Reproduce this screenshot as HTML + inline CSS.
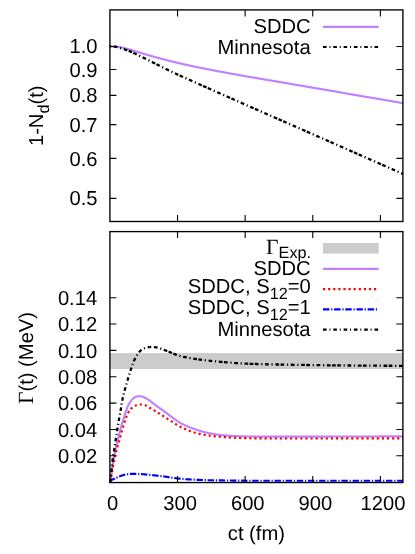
<!DOCTYPE html>
<html><head><meta charset="utf-8"><title>plot</title>
<style>html,body{margin:0;padding:0;background:#fff;}body{width:415px;height:554px;overflow:hidden;font-family:"Liberation Sans",sans-serif;}</style>
</head><body>
<svg width="415" height="554" viewBox="0 0 415 554" style="display:block;will-change:transform">
<rect x="0" y="0" width="415" height="554" fill="#fff"/>
<defs>
<clipPath id="c1"><rect x="109.9" y="9.9" width="293.00" height="211.60"/></clipPath>
<clipPath id="c2"><rect x="109.9" y="231.6" width="293.00" height="250.95"/></clipPath>
</defs>
<g clip-path="url(#c2)">
<rect x="109.9" y="353.1" width="293.00" height="15.90" fill="#cccccc"/>
</g>
<rect x="323.0" y="243.0" width="55.7" height="10.6" fill="#cccccc"/>
<g fill="none" stroke-width="2.15" stroke-linejoin="round">
<path d="M109.90,482.15 L110.10,481.48 L110.30,480.72 L110.50,479.82 L110.63,479.14 L110.70,478.77 L110.90,477.58 L111.10,476.28 L111.30,474.89 L111.37,474.43 L111.51,473.44 L111.71,471.95 L111.91,470.43 L112.10,468.95 L112.11,468.92 L112.31,467.43 L112.51,465.99 L112.71,464.62 L112.84,463.79 L112.91,463.34 L113.11,462.16 L113.31,461.01 L113.51,459.89 L113.57,459.56 L113.71,458.79 L113.91,457.71 L114.11,456.66 L114.31,455.66 L114.31,455.62 L114.52,454.60 L114.72,453.60 L114.92,452.61 L115.04,452.00 L115.12,451.63 L115.32,450.67 L115.52,449.72 L115.72,448.78 L115.78,448.51 L115.92,447.84 L116.12,446.93 L116.32,446.03 L116.51,445.19 L116.52,445.14 L116.72,444.26 L116.92,443.39 L117.12,442.54 L117.24,442.03 L117.32,441.70 L117.53,440.86 L117.73,440.03 L117.93,439.21 L117.98,439.00 L118.13,438.40 L118.33,437.59 L118.53,436.78 L118.71,436.05 L118.73,435.98 L118.93,435.19 L119.13,434.39 L119.33,433.61 L119.45,433.15 L119.53,432.83 L119.73,432.05 L119.93,431.28 L120.13,430.52 L120.18,430.34 L120.33,429.77 L120.54,429.02 L120.74,428.28 L120.92,427.62 L120.94,427.55 L121.14,426.83 L121.34,426.12 L121.54,425.41 L121.65,425.02 L121.74,424.72 L121.94,424.03 L122.14,423.35 L122.34,422.68 L122.39,422.53 L122.54,422.01 L122.74,421.35 L122.94,420.70 L123.12,420.12 L123.14,420.05 L123.34,419.41 L123.55,418.77 L123.75,418.14 L123.85,417.80 L123.95,417.51 L124.15,416.89 L124.35,416.27 L124.55,415.66 L124.59,415.53 L124.75,415.05 L124.95,414.45 L125.15,413.85 L125.32,413.33 L125.35,413.25 L125.55,412.64 L125.75,412.03 L125.95,411.42 L126.06,411.10 L126.15,410.81 L126.35,410.20 L126.56,409.60 L126.76,409.02 L126.79,408.91 L126.96,408.44 L127.16,407.89 L127.36,407.35 L127.53,406.92 L127.56,406.84 L127.76,406.36 L127.96,405.90 L128.16,405.47 L128.26,405.27 L128.36,405.07 L128.56,404.67 L128.76,404.29 L128.96,403.92 L129.00,403.86 L129.16,403.56 L129.36,403.21 L129.57,402.87 L129.73,402.61 L129.77,402.55 L129.97,402.23 L130.17,401.93 L130.37,401.64 L130.46,401.51 L130.57,401.36 L130.77,401.09 L130.97,400.84 L131.17,400.59 L131.20,400.55 L131.37,400.34 L131.57,400.11 L131.77,399.87 L131.93,399.69 L131.97,399.64 L132.17,399.42 L132.37,399.21 L132.58,399.01 L132.67,398.92 L132.78,398.81 L132.98,398.62 L133.18,398.45 L133.38,398.28 L133.40,398.26 L133.58,398.12 L133.78,397.98 L133.98,397.85 L134.14,397.75 L134.18,397.72 L134.38,397.59 L134.58,397.47 L134.78,397.34 L134.87,397.29 L134.98,397.23 L135.18,397.12 L135.38,397.01 L135.59,396.91 L135.61,396.90 L135.79,396.82 L135.99,396.74 L136.19,396.66 L136.34,396.61 L136.39,396.60 L136.59,396.54 L136.79,396.50 L136.99,396.47 L137.08,396.45 L137.19,396.43 L137.39,396.40 L137.59,396.37 L137.79,396.34 L137.81,396.34 L137.99,396.31 L138.19,396.29 L138.39,396.27 L138.54,396.25 L138.60,396.25 L138.80,396.23 L139.00,396.22 L139.20,396.21 L139.28,396.21 L139.40,396.20 L139.60,396.20 L139.80,396.20 L140.00,396.21 L140.01,396.22 L140.20,396.23 L140.40,396.26 L140.60,396.28 L140.75,396.31 L140.80,396.32 L141.00,396.36 L141.20,396.40 L141.41,396.45 L141.48,396.47 L141.61,396.50 L141.81,396.55 L142.01,396.61 L142.21,396.67 L142.22,396.67 L142.41,396.73 L142.61,396.79 L142.81,396.85 L142.95,396.89 L143.01,396.91 L143.21,396.97 L143.41,397.03 L143.61,397.10 L143.69,397.13 L143.81,397.18 L144.01,397.26 L144.21,397.34 L144.42,397.43 L144.42,397.43 L144.62,397.52 L144.82,397.62 L145.02,397.73 L145.15,397.80 L145.22,397.83 L145.42,397.94 L145.62,398.06 L145.82,398.17 L145.89,398.22 L146.02,398.29 L146.22,398.42 L146.42,398.54 L146.62,398.66 L146.62,398.67 L146.82,398.79 L147.02,398.92 L147.22,399.05 L147.36,399.13 L147.43,399.18 L147.63,399.31 L147.83,399.44 L148.03,399.56 L148.09,399.61 L148.23,399.69 L148.43,399.82 L148.63,399.95 L148.83,400.07 L148.83,400.08 L149.03,400.21 L149.23,400.35 L149.43,400.48 L149.56,400.57 L149.63,400.63 L149.83,400.77 L150.03,400.91 L150.23,401.06 L150.30,401.10 L150.44,401.21 L150.64,401.36 L150.84,401.51 L151.03,401.66 L151.04,401.66 L151.24,401.82 L151.44,401.97 L151.64,402.13 L151.76,402.23 L151.84,402.28 L152.04,402.44 L152.24,402.60 L152.44,402.76 L152.50,402.80 L152.64,402.92 L152.84,403.08 L153.04,403.23 L153.23,403.38 L153.24,403.39 L153.45,403.55 L153.65,403.71 L153.85,403.87 L153.97,403.96 L154.05,404.02 L154.25,404.18 L154.45,404.33 L154.65,404.49 L154.70,404.53 L154.85,404.64 L155.05,404.79 L155.25,404.94 L155.44,405.08 L155.45,405.09 L155.65,405.24 L155.85,405.38 L156.05,405.53 L156.17,405.61 L156.25,405.67 L156.46,405.82 L156.66,405.96 L156.86,406.10 L156.91,406.14 L157.06,406.25 L157.26,406.39 L157.46,406.53 L157.64,406.66 L157.66,406.67 L157.86,406.81 L158.06,406.95 L158.26,407.09 L158.37,407.17 L158.46,407.23 L158.66,407.37 L158.86,407.51 L159.06,407.65 L159.11,407.69 L159.26,407.80 L159.47,407.94 L159.67,408.08 L159.84,408.20 L159.87,408.22 L160.07,408.36 L160.27,408.50 L160.47,408.64 L160.58,408.71 L160.67,408.78 L160.87,408.92 L161.07,409.06 L161.27,409.20 L161.31,409.23 L161.47,409.35 L161.67,409.49 L161.87,409.63 L162.05,409.76 L162.07,409.78 L162.27,409.92 L162.48,410.06 L162.68,410.21 L162.78,410.29 L162.88,410.36 L163.08,410.50 L163.28,410.65 L163.48,410.80 L163.52,410.83 L163.68,410.95 L163.88,411.10 L164.08,411.25 L164.25,411.37 L164.28,411.40 L164.48,411.55 L164.68,411.70 L164.88,411.85 L164.98,411.92 L165.08,412.00 L165.28,412.15 L165.49,412.30 L165.69,412.46 L165.72,412.48 L165.89,412.61 L166.09,412.76 L166.29,412.91 L166.45,413.04 L166.49,413.07 L166.69,413.22 L166.89,413.37 L167.09,413.52 L167.19,413.60 L167.29,413.68 L167.49,413.83 L167.69,413.98 L167.89,414.13 L167.92,414.15 L168.09,414.28 L168.29,414.43 L168.50,414.58 L168.66,414.71 L168.70,414.73 L168.90,414.88 L169.10,415.03 L169.30,415.18 L169.39,415.25 L169.50,415.33 L169.70,415.48 L169.90,415.63 L170.13,415.79 L170.86,416.34 L171.59,416.89 L172.33,417.44 L173.06,418.00 L173.80,418.56 L174.53,419.11 L175.27,419.65 L176.00,420.19 L176.74,420.71 L177.47,421.22 L178.20,421.71 L178.94,422.17 L179.67,422.61 L180.41,423.03 L181.14,423.43 L181.88,423.81 L182.61,424.18 L183.35,424.54 L184.08,424.89 L184.82,425.23 L185.55,425.56 L186.28,425.88 L187.02,426.19 L187.75,426.50 L188.49,426.80 L189.22,427.10 L189.96,427.39 L190.69,427.68 L191.43,427.96 L192.16,428.24 L192.89,428.51 L193.63,428.78 L194.36,429.04 L195.10,429.30 L195.83,429.55 L196.57,429.79 L197.30,430.03 L198.04,430.26 L198.77,430.48 L199.50,430.70 L200.24,430.92 L200.97,431.13 L201.71,431.33 L202.44,431.54 L203.18,431.73 L203.91,431.93 L204.65,432.11 L205.38,432.30 L206.11,432.47 L206.85,432.64 L207.58,432.81 L208.32,432.97 L209.05,433.13 L209.79,433.28 L210.52,433.44 L211.26,433.59 L211.99,433.74 L212.72,433.88 L213.46,434.02 L214.19,434.15 L214.93,434.28 L215.66,434.40 L216.40,434.51 L217.13,434.61 L217.87,434.71 L218.60,434.80 L219.33,434.88 L220.07,434.96 L220.80,435.04 L221.54,435.12 L222.27,435.19 L223.01,435.26 L223.74,435.33 L224.48,435.39 L225.21,435.45 L225.94,435.51 L226.68,435.57 L227.41,435.62 L228.15,435.68 L228.88,435.73 L229.62,435.78 L230.35,435.82 L231.09,435.87 L231.82,435.91 L232.56,435.96 L233.29,436.00 L234.02,436.05 L234.76,436.09 L235.49,436.12 L236.23,436.16 L236.96,436.19 L237.70,436.23 L238.43,436.25 L239.17,436.28 L239.90,436.30 L240.63,436.32 L241.37,436.33 L242.10,436.35 L242.84,436.37 L243.57,436.38 L244.31,436.40 L245.04,436.42 L245.78,436.43 L246.51,436.45 L247.24,436.46 L247.98,436.48 L248.71,436.49 L249.45,436.50 L250.18,436.51 L250.92,436.53 L251.65,436.54 L252.39,436.55 L253.12,436.56 L253.85,436.56 L254.59,436.57 L255.32,436.58 L256.06,436.58 L256.79,436.59 L257.53,436.59 L258.26,436.60 L259.00,436.60 L259.73,436.60 L260.46,436.60 L261.20,436.60 L261.93,436.60 L262.67,436.60 L263.40,436.60 L264.14,436.60 L264.87,436.60 L265.61,436.60 L266.34,436.60 L267.07,436.60 L267.81,436.60 L268.54,436.60 L269.28,436.60 L270.01,436.60 L270.75,436.60 L271.48,436.60 L272.22,436.60 L272.95,436.60 L273.68,436.60 L274.42,436.60 L275.15,436.60 L275.89,436.60 L276.62,436.60 L277.36,436.60 L278.09,436.60 L278.83,436.60 L279.56,436.60 L280.29,436.60 L281.03,436.60 L281.76,436.60 L282.50,436.60 L283.23,436.60 L283.97,436.60 L284.70,436.60 L285.44,436.60 L286.17,436.60 L286.91,436.60 L287.64,436.60 L288.37,436.60 L289.11,436.60 L289.84,436.60 L290.58,436.60 L291.31,436.60 L292.05,436.60 L292.78,436.60 L293.52,436.60 L294.25,436.60 L294.98,436.60 L295.72,436.60 L296.45,436.60 L297.19,436.60 L297.92,436.60 L298.66,436.60 L299.39,436.60 L300.13,436.60 L300.86,436.60 L301.59,436.60 L302.33,436.60 L303.06,436.60 L303.80,436.60 L304.53,436.60 L305.27,436.60 L306.00,436.60 L306.74,436.60 L307.47,436.60 L308.20,436.59 L308.94,436.59 L309.67,436.59 L310.41,436.59 L311.14,436.59 L311.88,436.59 L312.61,436.59 L313.35,436.59 L314.08,436.59 L314.81,436.58 L315.55,436.58 L316.28,436.58 L317.02,436.58 L317.75,436.58 L318.49,436.58 L319.22,436.58 L319.96,436.57 L320.69,436.57 L321.42,436.57 L322.16,436.57 L322.89,436.57 L323.63,436.57 L324.36,436.56 L325.10,436.56 L325.83,436.56 L326.57,436.56 L327.30,436.56 L328.03,436.55 L328.77,436.55 L329.50,436.55 L330.24,436.55 L330.97,436.55 L331.71,436.54 L332.44,436.54 L333.18,436.54 L333.91,436.54 L334.65,436.54 L335.38,436.53 L336.11,436.53 L336.85,436.53 L337.58,436.53 L338.32,436.53 L339.05,436.53 L339.79,436.52 L340.52,436.52 L341.26,436.52 L341.99,436.52 L342.72,436.52 L343.46,436.51 L344.19,436.51 L344.93,436.51 L345.66,436.51 L346.40,436.51 L347.13,436.51 L347.87,436.50 L348.60,436.50 L349.33,436.50 L350.07,436.50 L350.80,436.50 L351.54,436.50 L352.27,436.50 L353.01,436.49 L353.74,436.49 L354.48,436.49 L355.21,436.49 L355.94,436.49 L356.68,436.49 L357.41,436.49 L358.15,436.48 L358.88,436.48 L359.62,436.48 L360.35,436.48 L361.09,436.48 L361.82,436.48 L362.55,436.48 L363.29,436.47 L364.02,436.47 L364.76,436.47 L365.49,436.47 L366.23,436.47 L366.96,436.47 L367.70,436.47 L368.43,436.46 L369.16,436.46 L369.90,436.46 L370.63,436.46 L371.37,436.46 L372.10,436.46 L372.84,436.46 L373.57,436.45 L374.31,436.45 L375.04,436.45 L375.77,436.45 L376.51,436.45 L377.24,436.45 L377.98,436.45 L378.71,436.45 L379.45,436.44 L380.18,436.44 L380.92,436.44 L381.65,436.44 L382.39,436.44 L383.12,436.44 L383.85,436.44 L384.59,436.43 L385.32,436.43 L386.06,436.43 L386.79,436.43 L387.53,436.43 L388.26,436.43 L389.00,436.43 L389.73,436.42 L390.46,436.42 L391.20,436.42 L391.93,436.42 L392.67,436.42 L393.40,436.42 L394.14,436.42 L394.87,436.41 L395.61,436.41 L396.34,436.41 L397.07,436.41 L397.81,436.41 L398.54,436.41 L399.28,436.41 L400.01,436.41 L400.75,436.40 L401.48,436.40 L402.22,436.40 L402.95,436.40" stroke="#c080ff"/>
<path d="M109.90,482.15 L110.10,481.45 L110.30,480.70 L110.50,479.87 L110.63,479.28 L110.70,478.96 L110.90,478.01 L111.10,477.00 L111.30,475.96 L111.37,475.62 L111.51,474.88 L111.71,473.77 L111.91,472.64 L112.10,471.52 L112.11,471.50 L112.31,470.35 L112.51,469.21 L112.71,468.07 L112.84,467.35 L112.91,466.94 L113.11,465.84 L113.31,464.77 L113.51,463.73 L113.57,463.43 L113.71,462.74 L113.91,461.77 L114.11,460.80 L114.31,459.88 L114.31,459.85 L114.52,458.90 L114.72,457.96 L114.92,457.03 L115.04,456.46 L115.12,456.11 L115.32,455.21 L115.52,454.31 L115.72,453.44 L115.78,453.20 L115.92,452.58 L116.12,451.74 L116.32,450.91 L116.51,450.15 L116.52,450.11 L116.72,449.32 L116.92,448.56 L117.12,447.83 L117.24,447.39 L117.32,447.11 L117.53,446.40 L117.73,445.71 L117.93,445.03 L117.98,444.85 L118.13,444.35 L118.33,443.68 L118.53,443.01 L118.71,442.40 L118.73,442.34 L118.93,441.67 L119.13,440.99 L119.33,440.29 L119.45,439.88 L119.53,439.59 L119.73,438.87 L119.93,438.14 L120.13,437.41 L120.18,437.23 L120.33,436.67 L120.54,435.93 L120.74,435.19 L120.92,434.53 L120.94,434.45 L121.14,433.72 L121.34,432.98 L121.54,432.26 L121.65,431.85 L121.74,431.54 L121.94,430.83 L122.14,430.14 L122.34,429.46 L122.39,429.31 L122.54,428.79 L122.74,428.12 L122.94,427.45 L123.12,426.87 L123.14,426.79 L123.34,426.14 L123.55,425.49 L123.75,424.84 L123.85,424.49 L123.95,424.20 L124.15,423.57 L124.35,422.94 L124.55,422.31 L124.59,422.19 L124.75,421.70 L124.95,421.08 L125.15,420.48 L125.32,419.97 L125.35,419.88 L125.55,419.29 L125.75,418.71 L125.95,418.13 L126.06,417.83 L126.15,417.56 L126.35,416.98 L126.56,416.41 L126.76,415.86 L126.79,415.77 L126.96,415.35 L127.16,414.89 L127.36,414.47 L127.53,414.13 L127.56,414.07 L127.76,413.68 L127.96,413.29 L128.16,412.91 L128.26,412.73 L128.36,412.55 L128.56,412.20 L128.76,411.85 L128.96,411.52 L129.00,411.47 L129.16,411.20 L129.36,410.89 L129.57,410.59 L129.73,410.35 L129.77,410.30 L129.97,410.02 L130.17,409.76 L130.37,409.51 L130.46,409.39 L130.57,409.27 L130.77,409.04 L130.97,408.83 L131.17,408.63 L131.20,408.60 L131.37,408.43 L131.57,408.23 L131.77,408.04 L131.93,407.89 L131.97,407.85 L132.17,407.67 L132.37,407.50 L132.58,407.32 L132.67,407.25 L132.78,407.16 L132.98,407.00 L133.18,406.85 L133.38,406.70 L133.40,406.68 L133.58,406.56 L133.78,406.43 L133.98,406.30 L134.14,406.21 L134.18,406.19 L134.38,406.08 L134.58,405.98 L134.78,405.89 L134.87,405.85 L134.98,405.81 L135.18,405.73 L135.38,405.65 L135.59,405.58 L135.61,405.57 L135.79,405.50 L135.99,405.43 L136.19,405.36 L136.34,405.30 L136.39,405.29 L136.59,405.22 L136.79,405.15 L136.99,405.08 L137.08,405.06 L137.19,405.02 L137.39,404.96 L137.59,404.90 L137.79,404.85 L137.81,404.84 L137.99,404.80 L138.19,404.75 L138.39,404.70 L138.54,404.67 L138.60,404.66 L138.80,404.63 L139.00,404.59 L139.20,404.57 L139.28,404.56 L139.40,404.54 L139.60,404.52 L139.80,404.51 L140.00,404.50 L140.01,404.50 L140.20,404.50 L140.40,404.50 L140.60,404.51 L140.75,404.51 L140.80,404.51 L141.00,404.53 L141.20,404.54 L141.41,404.56 L141.48,404.56 L141.61,404.58 L141.81,404.60 L142.01,404.62 L142.21,404.65 L142.22,404.65 L142.41,404.68 L142.61,404.71 L142.81,404.74 L142.95,404.77 L143.01,404.78 L143.21,404.81 L143.41,404.85 L143.61,404.89 L143.69,404.91 L143.81,404.93 L144.01,404.98 L144.21,405.02 L144.42,405.06 L144.42,405.07 L144.62,405.11 L144.82,405.16 L145.02,405.20 L145.15,405.24 L145.22,405.26 L145.42,405.33 L145.62,405.41 L145.82,405.49 L145.89,405.53 L146.02,405.59 L146.22,405.70 L146.42,405.81 L146.62,405.93 L146.62,405.93 L146.82,406.06 L147.02,406.19 L147.22,406.32 L147.36,406.41 L147.43,406.45 L147.63,406.59 L147.83,406.72 L148.03,406.85 L148.09,406.90 L148.23,406.99 L148.43,407.12 L148.63,407.24 L148.83,407.36 L148.83,407.36 L149.03,407.47 L149.23,407.59 L149.43,407.70 L149.56,407.78 L149.63,407.82 L149.83,407.93 L150.03,408.04 L150.23,408.16 L150.30,408.19 L150.44,408.27 L150.64,408.39 L150.84,408.50 L151.03,408.61 L151.04,408.62 L151.24,408.73 L151.44,408.84 L151.64,408.96 L151.76,409.03 L151.84,409.07 L152.04,409.19 L152.24,409.30 L152.44,409.42 L152.50,409.45 L152.64,409.53 L152.84,409.65 L153.04,409.76 L153.23,409.87 L153.24,409.88 L153.45,409.99 L153.65,410.11 L153.85,410.23 L153.97,410.30 L154.05,410.34 L154.25,410.46 L154.45,410.58 L154.65,410.70 L154.70,410.73 L154.85,410.81 L155.05,410.93 L155.25,411.05 L155.44,411.16 L155.45,411.17 L155.65,411.29 L155.85,411.41 L156.05,411.53 L156.17,411.60 L156.25,411.65 L156.46,411.78 L156.66,411.90 L156.86,412.02 L156.91,412.05 L157.06,412.15 L157.26,412.27 L157.46,412.40 L157.64,412.51 L157.66,412.53 L157.86,412.65 L158.06,412.78 L158.26,412.91 L158.37,412.98 L158.46,413.03 L158.66,413.16 L158.86,413.29 L159.06,413.41 L159.11,413.44 L159.26,413.54 L159.47,413.67 L159.67,413.79 L159.84,413.90 L159.87,413.92 L160.07,414.04 L160.27,414.17 L160.47,414.29 L160.58,414.36 L160.67,414.41 L160.87,414.54 L161.07,414.66 L161.27,414.78 L161.31,414.81 L161.47,414.91 L161.67,415.03 L161.87,415.15 L162.05,415.26 L162.07,415.27 L162.27,415.40 L162.48,415.52 L162.68,415.65 L162.78,415.71 L162.88,415.77 L163.08,415.90 L163.28,416.02 L163.48,416.15 L163.52,416.17 L163.68,416.28 L163.88,416.41 L164.08,416.53 L164.25,416.64 L164.28,416.66 L164.48,416.79 L164.68,416.92 L164.88,417.05 L164.98,417.12 L165.08,417.18 L165.28,417.32 L165.49,417.45 L165.69,417.58 L165.72,417.60 L165.89,417.71 L166.09,417.84 L166.29,417.97 L166.45,418.08 L166.49,418.11 L166.69,418.24 L166.89,418.37 L167.09,418.50 L167.19,418.57 L167.29,418.64 L167.49,418.77 L167.69,418.90 L167.89,419.03 L167.92,419.05 L168.09,419.17 L168.29,419.30 L168.50,419.43 L168.66,419.53 L168.70,419.56 L168.90,419.69 L169.10,419.82 L169.30,419.95 L169.39,420.01 L169.50,420.08 L169.70,420.21 L169.90,420.34 L170.13,420.48 L170.86,420.95 L171.59,421.43 L172.33,421.91 L173.06,422.39 L173.80,422.87 L174.53,423.35 L175.27,423.82 L176.00,424.28 L176.74,424.74 L177.47,425.18 L178.20,425.61 L178.94,426.03 L179.67,426.43 L180.41,426.81 L181.14,427.18 L181.88,427.54 L182.61,427.90 L183.35,428.24 L184.08,428.58 L184.82,428.90 L185.55,429.22 L186.28,429.52 L187.02,429.82 L187.75,430.11 L188.49,430.38 L189.22,430.66 L189.96,430.93 L190.69,431.20 L191.43,431.46 L192.16,431.72 L192.89,431.97 L193.63,432.21 L194.36,432.45 L195.10,432.67 L195.83,432.89 L196.57,433.10 L197.30,433.30 L198.04,433.49 L198.77,433.66 L199.50,433.83 L200.24,434.00 L200.97,434.15 L201.71,434.31 L202.44,434.45 L203.18,434.59 L203.91,434.73 L204.65,434.86 L205.38,434.98 L206.11,435.11 L206.85,435.22 L207.58,435.34 L208.32,435.45 L209.05,435.55 L209.79,435.66 L210.52,435.76 L211.26,435.86 L211.99,435.95 L212.72,436.05 L213.46,436.14 L214.19,436.22 L214.93,436.31 L215.66,436.39 L216.40,436.46 L217.13,436.54 L217.87,436.61 L218.60,436.67 L219.33,436.74 L220.07,436.80 L220.80,436.86 L221.54,436.92 L222.27,436.98 L223.01,437.04 L223.74,437.09 L224.48,437.14 L225.21,437.19 L225.94,437.24 L226.68,437.29 L227.41,437.34 L228.15,437.39 L228.88,437.43 L229.62,437.48 L230.35,437.52 L231.09,437.56 L231.82,437.61 L232.56,437.65 L233.29,437.69 L234.02,437.73 L234.76,437.77 L235.49,437.81 L236.23,437.85 L236.96,437.88 L237.70,437.92 L238.43,437.95 L239.17,437.97 L239.90,438.00 L240.63,438.02 L241.37,438.04 L242.10,438.06 L242.84,438.08 L243.57,438.10 L244.31,438.12 L245.04,438.14 L245.78,438.16 L246.51,438.18 L247.24,438.20 L247.98,438.22 L248.71,438.23 L249.45,438.25 L250.18,438.27 L250.92,438.28 L251.65,438.30 L252.39,438.31 L253.12,438.32 L253.85,438.33 L254.59,438.35 L255.32,438.36 L256.06,438.37 L256.79,438.37 L257.53,438.38 L258.26,438.39 L259.00,438.39 L259.73,438.40 L260.46,438.40 L261.20,438.41 L261.93,438.41 L262.67,438.41 L263.40,438.42 L264.14,438.42 L264.87,438.42 L265.61,438.43 L266.34,438.43 L267.07,438.43 L267.81,438.43 L268.54,438.44 L269.28,438.44 L270.01,438.44 L270.75,438.45 L271.48,438.45 L272.22,438.45 L272.95,438.45 L273.68,438.46 L274.42,438.46 L275.15,438.46 L275.89,438.46 L276.62,438.47 L277.36,438.47 L278.09,438.47 L278.83,438.47 L279.56,438.47 L280.29,438.48 L281.03,438.48 L281.76,438.48 L282.50,438.48 L283.23,438.48 L283.97,438.48 L284.70,438.48 L285.44,438.49 L286.17,438.49 L286.91,438.49 L287.64,438.49 L288.37,438.49 L289.11,438.49 L289.84,438.49 L290.58,438.49 L291.31,438.50 L292.05,438.50 L292.78,438.50 L293.52,438.50 L294.25,438.50 L294.98,438.50 L295.72,438.50 L296.45,438.50 L297.19,438.50 L297.92,438.50 L298.66,438.50 L299.39,438.50 L300.13,438.50 L300.86,438.50 L301.59,438.50 L302.33,438.50 L303.06,438.50 L303.80,438.50 L304.53,438.50 L305.27,438.50 L306.00,438.50 L306.74,438.50 L307.47,438.50 L308.20,438.49 L308.94,438.49 L309.67,438.49 L310.41,438.49 L311.14,438.49 L311.88,438.49 L312.61,438.49 L313.35,438.49 L314.08,438.49 L314.81,438.48 L315.55,438.48 L316.28,438.48 L317.02,438.48 L317.75,438.48 L318.49,438.48 L319.22,438.48 L319.96,438.47 L320.69,438.47 L321.42,438.47 L322.16,438.47 L322.89,438.47 L323.63,438.47 L324.36,438.46 L325.10,438.46 L325.83,438.46 L326.57,438.46 L327.30,438.46 L328.03,438.45 L328.77,438.45 L329.50,438.45 L330.24,438.45 L330.97,438.45 L331.71,438.44 L332.44,438.44 L333.18,438.44 L333.91,438.44 L334.65,438.44 L335.38,438.43 L336.11,438.43 L336.85,438.43 L337.58,438.43 L338.32,438.43 L339.05,438.43 L339.79,438.42 L340.52,438.42 L341.26,438.42 L341.99,438.42 L342.72,438.42 L343.46,438.41 L344.19,438.41 L344.93,438.41 L345.66,438.41 L346.40,438.41 L347.13,438.41 L347.87,438.40 L348.60,438.40 L349.33,438.40 L350.07,438.40 L350.80,438.40 L351.54,438.40 L352.27,438.40 L353.01,438.39 L353.74,438.39 L354.48,438.39 L355.21,438.39 L355.94,438.39 L356.68,438.39 L357.41,438.39 L358.15,438.38 L358.88,438.38 L359.62,438.38 L360.35,438.38 L361.09,438.38 L361.82,438.38 L362.55,438.38 L363.29,438.37 L364.02,438.37 L364.76,438.37 L365.49,438.37 L366.23,438.37 L366.96,438.37 L367.70,438.37 L368.43,438.36 L369.16,438.36 L369.90,438.36 L370.63,438.36 L371.37,438.36 L372.10,438.36 L372.84,438.36 L373.57,438.35 L374.31,438.35 L375.04,438.35 L375.77,438.35 L376.51,438.35 L377.24,438.35 L377.98,438.35 L378.71,438.35 L379.45,438.34 L380.18,438.34 L380.92,438.34 L381.65,438.34 L382.39,438.34 L383.12,438.34 L383.85,438.34 L384.59,438.33 L385.32,438.33 L386.06,438.33 L386.79,438.33 L387.53,438.33 L388.26,438.33 L389.00,438.33 L389.73,438.32 L390.46,438.32 L391.20,438.32 L391.93,438.32 L392.67,438.32 L393.40,438.32 L394.14,438.32 L394.87,438.31 L395.61,438.31 L396.34,438.31 L397.07,438.31 L397.81,438.31 L398.54,438.31 L399.28,438.31 L400.01,438.31 L400.75,438.30 L401.48,438.30 L402.22,438.30 L402.95,438.30" stroke="#ff0000" stroke-dasharray="2.2 2.9"/>
<path d="M109.90,482.15 L110.10,481.62 L110.30,481.15 L110.50,480.89 L110.63,480.76 L110.70,480.69 L110.90,480.51 L111.10,480.34 L111.30,480.19 L111.37,480.14 L111.51,480.04 L111.71,479.91 L111.91,479.79 L112.10,479.68 L112.11,479.67 L112.31,479.57 L112.51,479.47 L112.71,479.38 L112.84,479.32 L112.91,479.29 L113.11,479.21 L113.31,479.13 L113.51,479.05 L113.57,479.03 L113.71,478.97 L113.91,478.90 L114.11,478.82 L114.31,478.75 L114.31,478.74 L114.52,478.66 L114.72,478.58 L114.92,478.49 L115.04,478.43 L115.12,478.39 L115.32,478.29 L115.52,478.20 L115.72,478.10 L115.78,478.07 L115.92,478.00 L116.12,477.91 L116.32,477.81 L116.51,477.72 L116.52,477.72 L116.72,477.62 L116.92,477.53 L117.12,477.44 L117.24,477.38 L117.32,477.34 L117.53,477.25 L117.73,477.16 L117.93,477.07 L117.98,477.05 L118.13,476.99 L118.33,476.90 L118.53,476.81 L118.71,476.73 L118.73,476.73 L118.93,476.64 L119.13,476.56 L119.33,476.48 L119.45,476.43 L119.53,476.40 L119.73,476.32 L119.93,476.25 L120.13,476.17 L120.18,476.15 L120.33,476.10 L120.54,476.03 L120.74,475.96 L120.92,475.89 L120.94,475.89 L121.14,475.82 L121.34,475.75 L121.54,475.68 L121.65,475.64 L121.74,475.61 L121.94,475.55 L122.14,475.48 L122.34,475.41 L122.39,475.39 L122.54,475.34 L122.74,475.27 L122.94,475.21 L123.12,475.15 L123.14,475.14 L123.34,475.08 L123.55,475.02 L123.75,474.95 L123.85,474.92 L123.95,474.89 L124.15,474.84 L124.35,474.78 L124.55,474.72 L124.59,474.71 L124.75,474.67 L124.95,474.62 L125.15,474.57 L125.32,474.53 L125.35,474.53 L125.55,474.49 L125.75,474.45 L125.95,474.41 L126.06,474.39 L126.15,474.37 L126.35,474.34 L126.56,474.32 L126.76,474.29 L126.79,474.29 L126.96,474.27 L127.16,474.25 L127.36,474.23 L127.53,474.21 L127.56,474.20 L127.76,474.18 L127.96,474.16 L128.16,474.14 L128.26,474.13 L128.36,474.12 L128.56,474.10 L128.76,474.08 L128.96,474.06 L129.00,474.06 L129.16,474.04 L129.36,474.03 L129.57,474.01 L129.73,473.99 L129.77,473.99 L129.97,473.97 L130.17,473.96 L130.37,473.94 L130.46,473.94 L130.57,473.93 L130.77,473.91 L130.97,473.90 L131.17,473.89 L131.20,473.89 L131.37,473.88 L131.57,473.87 L131.77,473.85 L131.93,473.85 L131.97,473.85 L132.17,473.84 L132.37,473.83 L132.58,473.82 L132.67,473.82 L132.78,473.82 L132.98,473.81 L133.18,473.81 L133.38,473.80 L133.40,473.80 L133.58,473.80 L133.78,473.80 L133.98,473.80 L134.14,473.80 L134.18,473.80 L134.38,473.80 L134.58,473.80 L134.78,473.81 L134.87,473.81 L134.98,473.81 L135.18,473.81 L135.38,473.82 L135.59,473.82 L135.61,473.82 L135.79,473.83 L135.99,473.83 L136.19,473.84 L136.34,473.85 L136.39,473.85 L136.59,473.86 L136.79,473.86 L136.99,473.87 L137.08,473.88 L137.19,473.88 L137.39,473.89 L137.59,473.90 L137.79,473.91 L137.81,473.91 L137.99,473.92 L138.19,473.93 L138.39,473.94 L138.54,473.95 L138.60,473.95 L138.80,473.96 L139.00,473.97 L139.20,473.99 L139.28,473.99 L139.40,474.00 L139.60,474.01 L139.80,474.02 L140.00,474.03 L140.01,474.04 L140.20,474.05 L140.40,474.06 L140.60,474.07 L140.75,474.08 L140.80,474.09 L141.00,474.10 L141.20,474.11 L141.41,474.12 L141.48,474.13 L141.61,474.14 L141.81,474.15 L142.01,474.16 L142.21,474.18 L142.22,474.18 L142.41,474.19 L142.61,474.20 L142.81,474.21 L142.95,474.22 L143.01,474.23 L143.21,474.24 L143.41,474.25 L143.61,474.27 L143.69,474.27 L143.81,474.28 L144.01,474.30 L144.21,474.32 L144.42,474.33 L144.42,474.33 L144.62,474.35 L144.82,474.37 L145.02,474.38 L145.15,474.40 L145.22,474.40 L145.42,474.42 L145.62,474.44 L145.82,474.46 L145.89,474.47 L146.02,474.48 L146.22,474.50 L146.42,474.52 L146.62,474.54 L146.62,474.54 L146.82,474.56 L147.02,474.58 L147.22,474.60 L147.36,474.61 L147.43,474.62 L147.63,474.64 L147.83,474.66 L148.03,474.69 L148.09,474.69 L148.23,474.71 L148.43,474.73 L148.63,474.75 L148.83,474.77 L148.83,474.77 L149.03,474.80 L149.23,474.82 L149.43,474.84 L149.56,474.85 L149.63,474.86 L149.83,474.88 L150.03,474.91 L150.23,474.93 L150.30,474.94 L150.44,474.95 L150.64,474.97 L150.84,475.00 L151.03,475.02 L151.04,475.02 L151.24,475.04 L151.44,475.06 L151.64,475.09 L151.76,475.10 L151.84,475.11 L152.04,475.13 L152.24,475.15 L152.44,475.17 L152.50,475.18 L152.64,475.19 L152.84,475.22 L153.04,475.24 L153.23,475.26 L153.24,475.26 L153.45,475.28 L153.65,475.30 L153.85,475.32 L153.97,475.33 L154.05,475.34 L154.25,475.36 L154.45,475.38 L154.65,475.40 L154.70,475.41 L154.85,475.43 L155.05,475.45 L155.25,475.47 L155.44,475.49 L155.45,475.49 L155.65,475.51 L155.85,475.53 L156.05,475.55 L156.17,475.56 L156.25,475.57 L156.46,475.59 L156.66,475.62 L156.86,475.64 L156.91,475.64 L157.06,475.66 L157.26,475.68 L157.46,475.70 L157.64,475.72 L157.66,475.72 L157.86,475.74 L158.06,475.77 L158.26,475.79 L158.37,475.80 L158.46,475.81 L158.66,475.83 L158.86,475.85 L159.06,475.88 L159.11,475.88 L159.26,475.90 L159.47,475.92 L159.67,475.94 L159.84,475.96 L159.87,475.97 L160.07,475.99 L160.27,476.01 L160.47,476.04 L160.58,476.05 L160.67,476.06 L160.87,476.08 L161.07,476.10 L161.27,476.13 L161.31,476.13 L161.47,476.15 L161.67,476.18 L161.87,476.20 L162.05,476.22 L162.07,476.22 L162.27,476.25 L162.48,476.27 L162.68,476.30 L162.78,476.31 L162.88,476.32 L163.08,476.35 L163.28,476.37 L163.48,476.40 L163.52,476.40 L163.68,476.43 L163.88,476.45 L164.08,476.48 L164.25,476.50 L164.28,476.50 L164.48,476.53 L164.68,476.56 L164.88,476.58 L164.98,476.60 L165.08,476.61 L165.28,476.64 L165.49,476.67 L165.69,476.70 L165.72,476.70 L165.89,476.73 L166.09,476.76 L166.29,476.79 L166.45,476.82 L166.49,476.82 L166.69,476.86 L166.89,476.89 L167.09,476.92 L167.19,476.94 L167.29,476.96 L167.49,476.99 L167.69,477.03 L167.89,477.06 L167.92,477.06 L168.09,477.09 L168.29,477.13 L168.50,477.16 L168.66,477.19 L168.70,477.19 L168.90,477.23 L169.10,477.26 L169.30,477.29 L169.39,477.31 L169.50,477.32 L169.70,477.35 L169.90,477.39 L170.13,477.42 L170.86,477.53 L171.59,477.64 L172.33,477.74 L173.06,477.85 L173.80,477.95 L174.53,478.05 L175.27,478.15 L176.00,478.24 L176.74,478.33 L177.47,478.41 L178.20,478.48 L178.94,478.56 L179.67,478.63 L180.41,478.70 L181.14,478.77 L181.88,478.84 L182.61,478.91 L183.35,478.97 L184.08,479.03 L184.82,479.09 L185.55,479.15 L186.28,479.20 L187.02,479.26 L187.75,479.31 L188.49,479.35 L189.22,479.40 L189.96,479.44 L190.69,479.48 L191.43,479.52 L192.16,479.56 L192.89,479.60 L193.63,479.64 L194.36,479.67 L195.10,479.71 L195.83,479.74 L196.57,479.78 L197.30,479.81 L198.04,479.85 L198.77,479.88 L199.50,479.91 L200.24,479.94 L200.97,479.97 L201.71,480.00 L202.44,480.02 L203.18,480.05 L203.91,480.07 L204.65,480.10 L205.38,480.12 L206.11,480.14 L206.85,480.16 L207.58,480.18 L208.32,480.20 L209.05,480.21 L209.79,480.23 L210.52,480.24 L211.26,480.26 L211.99,480.27 L212.72,480.29 L213.46,480.30 L214.19,480.31 L214.93,480.32 L215.66,480.34 L216.40,480.35 L217.13,480.36 L217.87,480.37 L218.60,480.38 L219.33,480.39 L220.07,480.40 L220.80,480.41 L221.54,480.42 L222.27,480.43 L223.01,480.44 L223.74,480.45 L224.48,480.46 L225.21,480.47 L225.94,480.48 L226.68,480.49 L227.41,480.50 L228.15,480.50 L228.88,480.51 L229.62,480.52 L230.35,480.53 L231.09,480.54 L231.82,480.55 L232.56,480.56 L233.29,480.57 L234.02,480.58 L234.76,480.60 L235.49,480.61 L236.23,480.61 L236.96,480.62 L237.70,480.63 L238.43,480.64 L239.17,480.65 L239.90,480.66 L240.63,480.67 L241.37,480.67 L242.10,480.68 L242.84,480.68 L243.57,480.69 L244.31,480.69 L245.04,480.70 L245.78,480.70 L246.51,480.70 L247.24,480.70 L247.98,480.70 L248.71,480.70 L249.45,480.70 L250.18,480.70 L250.92,480.70 L251.65,480.70 L252.39,480.70 L253.12,480.70 L253.85,480.70 L254.59,480.70 L255.32,480.70 L256.06,480.70 L256.79,480.70 L257.53,480.70 L258.26,480.70 L259.00,480.70 L259.73,480.70 L260.46,480.70 L261.20,480.70 L261.93,480.70 L262.67,480.70 L263.40,480.70 L264.14,480.70 L264.87,480.70 L265.61,480.70 L266.34,480.70 L267.07,480.70 L267.81,480.70 L268.54,480.70 L269.28,480.70 L270.01,480.70 L270.75,480.70 L271.48,480.70 L272.22,480.70 L272.95,480.70 L273.68,480.70 L274.42,480.70 L275.15,480.70 L275.89,480.70 L276.62,480.70 L277.36,480.70 L278.09,480.70 L278.83,480.70 L279.56,480.70 L280.29,480.70 L281.03,480.70 L281.76,480.70 L282.50,480.70 L283.23,480.70 L283.97,480.70 L284.70,480.70 L285.44,480.70 L286.17,480.70 L286.91,480.70 L287.64,480.70 L288.37,480.70 L289.11,480.70 L289.84,480.70 L290.58,480.70 L291.31,480.70 L292.05,480.70 L292.78,480.70 L293.52,480.70 L294.25,480.70 L294.98,480.70 L295.72,480.70 L296.45,480.70 L297.19,480.70 L297.92,480.70 L298.66,480.70 L299.39,480.70 L300.13,480.70 L300.86,480.70 L301.59,480.70 L302.33,480.70 L303.06,480.70 L303.80,480.70 L304.53,480.70 L305.27,480.70 L306.00,480.70 L306.74,480.70 L307.47,480.70 L308.20,480.70 L308.94,480.70 L309.67,480.70 L310.41,480.70 L311.14,480.70 L311.88,480.70 L312.61,480.70 L313.35,480.70 L314.08,480.70 L314.81,480.70 L315.55,480.70 L316.28,480.70 L317.02,480.70 L317.75,480.70 L318.49,480.70 L319.22,480.70 L319.96,480.70 L320.69,480.70 L321.42,480.70 L322.16,480.70 L322.89,480.70 L323.63,480.70 L324.36,480.70 L325.10,480.70 L325.83,480.70 L326.57,480.70 L327.30,480.70 L328.03,480.70 L328.77,480.70 L329.50,480.70 L330.24,480.70 L330.97,480.70 L331.71,480.70 L332.44,480.70 L333.18,480.70 L333.91,480.70 L334.65,480.70 L335.38,480.70 L336.11,480.70 L336.85,480.70 L337.58,480.70 L338.32,480.70 L339.05,480.70 L339.79,480.70 L340.52,480.70 L341.26,480.70 L341.99,480.70 L342.72,480.70 L343.46,480.70 L344.19,480.70 L344.93,480.70 L345.66,480.70 L346.40,480.70 L347.13,480.70 L347.87,480.70 L348.60,480.70 L349.33,480.70 L350.07,480.70 L350.80,480.70 L351.54,480.70 L352.27,480.70 L353.01,480.70 L353.74,480.70 L354.48,480.70 L355.21,480.70 L355.94,480.70 L356.68,480.70 L357.41,480.70 L358.15,480.70 L358.88,480.70 L359.62,480.70 L360.35,480.70 L361.09,480.70 L361.82,480.70 L362.55,480.70 L363.29,480.70 L364.02,480.70 L364.76,480.70 L365.49,480.70 L366.23,480.70 L366.96,480.70 L367.70,480.70 L368.43,480.70 L369.16,480.70 L369.90,480.70 L370.63,480.70 L371.37,480.70 L372.10,480.70 L372.84,480.70 L373.57,480.70 L374.31,480.70 L375.04,480.70 L375.77,480.70 L376.51,480.70 L377.24,480.70 L377.98,480.70 L378.71,480.70 L379.45,480.70 L380.18,480.70 L380.92,480.70 L381.65,480.70 L382.39,480.70 L383.12,480.70 L383.85,480.70 L384.59,480.70 L385.32,480.70 L386.06,480.70 L386.79,480.70 L387.53,480.70 L388.26,480.70 L389.00,480.70 L389.73,480.70 L390.46,480.70 L391.20,480.70 L391.93,480.70 L392.67,480.70 L393.40,480.70 L394.14,480.70 L394.87,480.70 L395.61,480.70 L396.34,480.70 L397.07,480.70 L397.81,480.70 L398.54,480.70 L399.28,480.70 L400.01,480.70 L400.75,480.70 L401.48,480.70 L402.22,480.70 L402.95,480.70" stroke="#0000ff" stroke-dasharray="6.4 1.8 1.2 1.75"/>
<path d="M109.90,482.15 L110.10,481.56 L110.30,480.76 L110.50,479.73 L110.63,478.82 L110.70,478.28 L110.90,476.47 L111.10,474.39 L111.30,472.16 L111.37,471.42 L111.51,469.86 L111.71,467.59 L111.91,465.46 L112.10,463.60 L112.11,463.57 L112.31,461.96 L112.51,460.48 L112.71,459.07 L112.84,458.20 L112.91,457.72 L113.11,456.43 L113.31,455.17 L113.51,453.94 L113.57,453.57 L113.71,452.71 L113.91,451.48 L114.11,450.23 L114.31,449.01 L114.31,448.96 L114.52,447.64 L114.72,446.31 L114.92,444.98 L115.04,444.15 L115.12,443.65 L115.32,442.31 L115.52,440.97 L115.72,439.64 L115.78,439.27 L115.92,438.32 L116.12,437.00 L116.32,435.69 L116.51,434.48 L116.52,434.40 L116.72,433.12 L116.92,431.84 L117.12,430.56 L117.24,429.80 L117.32,429.29 L117.53,428.03 L117.73,426.77 L117.93,425.53 L117.98,425.21 L118.13,424.31 L118.33,423.09 L118.53,421.90 L118.71,420.82 L118.73,420.73 L118.93,419.59 L119.13,418.48 L119.33,417.39 L119.45,416.77 L119.53,416.32 L119.73,415.26 L119.93,414.19 L120.13,413.10 L120.18,412.84 L120.33,412.00 L120.54,410.87 L120.74,409.69 L120.92,408.57 L120.94,408.45 L121.14,407.16 L121.34,405.85 L121.54,404.54 L121.65,403.82 L121.74,403.27 L121.94,402.06 L122.14,400.92 L122.34,399.90 L122.39,399.68 L122.54,398.94 L122.74,398.02 L122.94,397.13 L123.12,396.38 L123.14,396.28 L123.34,395.46 L123.55,394.66 L123.75,393.88 L123.85,393.46 L123.95,393.12 L124.15,392.37 L124.35,391.63 L124.55,390.89 L124.59,390.74 L124.75,390.16 L124.95,389.42 L125.15,388.68 L125.32,388.04 L125.35,387.94 L125.55,387.20 L125.75,386.48 L125.95,385.76 L126.06,385.39 L126.15,385.05 L126.35,384.34 L126.56,383.64 L126.76,382.95 L126.79,382.83 L126.96,382.26 L127.16,381.58 L127.36,380.90 L127.53,380.33 L127.56,380.22 L127.76,379.54 L127.96,378.87 L128.16,378.20 L128.26,377.86 L128.36,377.52 L128.56,376.85 L128.76,376.17 L128.96,375.50 L129.00,375.40 L129.16,374.84 L129.36,374.17 L129.57,373.51 L129.73,372.97 L129.77,372.86 L129.97,372.21 L130.17,371.57 L130.37,370.93 L130.46,370.63 L130.57,370.31 L130.77,369.69 L130.97,369.09 L131.17,368.49 L131.20,368.40 L131.37,367.89 L131.57,367.29 L131.77,366.69 L131.93,366.21 L131.97,366.10 L132.17,365.51 L132.37,364.93 L132.58,364.36 L132.67,364.10 L132.78,363.80 L132.98,363.26 L133.18,362.73 L133.38,362.23 L133.40,362.17 L133.58,361.74 L133.78,361.27 L133.98,360.82 L134.14,360.48 L134.18,360.39 L134.38,359.97 L134.58,359.55 L134.78,359.15 L134.87,358.97 L134.98,358.75 L135.18,358.36 L135.38,357.98 L135.59,357.61 L135.61,357.58 L135.79,357.25 L135.99,356.90 L136.19,356.56 L136.34,356.30 L136.39,356.22 L136.59,355.89 L136.79,355.57 L136.99,355.26 L137.08,355.13 L137.19,354.95 L137.39,354.66 L137.59,354.37 L137.79,354.08 L137.81,354.06 L137.99,353.79 L138.19,353.51 L138.39,353.23 L138.54,353.02 L138.60,352.95 L138.80,352.68 L139.00,352.41 L139.20,352.15 L139.28,352.05 L139.40,351.90 L139.60,351.66 L139.80,351.42 L140.00,351.20 L140.01,351.19 L140.20,350.99 L140.40,350.79 L140.60,350.60 L140.75,350.48 L140.80,350.43 L141.00,350.27 L141.20,350.13 L141.41,349.99 L141.48,349.93 L141.61,349.85 L141.81,349.71 L142.01,349.58 L142.21,349.46 L142.22,349.45 L142.41,349.33 L142.61,349.21 L142.81,349.09 L142.95,349.01 L143.01,348.98 L143.21,348.86 L143.41,348.76 L143.61,348.65 L143.69,348.62 L143.81,348.55 L144.01,348.46 L144.21,348.37 L144.42,348.28 L144.42,348.28 L144.62,348.20 L144.82,348.12 L145.02,348.04 L145.15,347.99 L145.22,347.97 L145.42,347.91 L145.62,347.85 L145.82,347.79 L145.89,347.77 L146.02,347.74 L146.22,347.70 L146.42,347.65 L146.62,347.61 L146.62,347.61 L146.82,347.57 L147.02,347.52 L147.22,347.48 L147.36,347.46 L147.43,347.44 L147.63,347.40 L147.83,347.36 L148.03,347.33 L148.09,347.31 L148.23,347.29 L148.43,347.25 L148.63,347.22 L148.83,347.19 L148.83,347.18 L149.03,347.15 L149.23,347.12 L149.43,347.09 L149.56,347.08 L149.63,347.07 L149.83,347.04" stroke="#000" stroke-width="2.3" stroke-dasharray="3.6 2.8 1.1 2.8"/>
<path d="M150.03,347.02 L150.23,347.00 L150.30,346.99 L150.44,346.98 L150.64,346.96 L150.84,346.94 L151.03,346.93 L151.04,346.93 L151.24,346.92 L151.44,346.91 L151.64,346.90 L151.76,346.90 L151.84,346.90 L152.04,346.90 L152.24,346.90 L152.44,346.91 L152.50,346.91 L152.64,346.91 L152.84,346.93 L153.04,346.94 L153.23,346.95 L153.24,346.95 L153.45,346.97 L153.65,346.99 L153.85,347.01 L153.97,347.03 L154.05,347.04 L154.25,347.06 L154.45,347.09 L154.65,347.12 L154.70,347.13 L154.85,347.15 L155.05,347.18 L155.25,347.21 L155.44,347.25 L155.45,347.25 L155.65,347.28 L155.85,347.32 L156.05,347.36 L156.17,347.38 L156.25,347.39 L156.46,347.43 L156.66,347.47 L156.86,347.51 L156.91,347.52 L157.06,347.55 L157.26,347.59 L157.46,347.63 L157.64,347.67 L157.66,347.67 L157.86,347.71 L158.06,347.76 L158.26,347.80 L158.37,347.83 L158.46,347.85 L158.66,347.91 L158.86,347.96 L159.06,348.02 L159.11,348.04 L159.26,348.09 L159.47,348.15 L159.67,348.22 L159.84,348.28 L159.87,348.29 L160.07,348.36 L160.27,348.44 L160.47,348.51 L160.58,348.55 L160.67,348.59 L160.87,348.66 L161.07,348.74 L161.27,348.82 L161.31,348.83 L161.47,348.90 L161.67,348.97 L161.87,349.05 L162.05,349.12 L162.07,349.13 L162.27,349.21 L162.48,349.28 L162.68,349.35 L162.78,349.39 L162.88,349.43 L163.08,349.50 L163.28,349.57 L163.48,349.65 L163.52,349.66 L163.68,349.72 L163.88,349.80 L164.08,349.87 L164.25,349.94 L164.28,349.95 L164.48,350.03 L164.68,350.10 L164.88,350.18 L164.98,350.22 L165.08,350.26 L165.28,350.34 L165.49,350.42 L165.69,350.49 L165.72,350.51 L165.89,350.57 L166.09,350.65 L166.29,350.73 L166.45,350.80 L166.49,350.81 L166.69,350.89 L166.89,350.97 L167.09,351.05 L167.19,351.09 L167.29,351.13 L167.49,351.21 L167.69,351.29 L167.89,351.37 L167.92,351.38 L168.09,351.45 L168.29,351.53 L168.50,351.61 L168.66,351.67 L168.70,351.69 L168.90,351.77 L169.10,351.85 L169.30,351.93 L169.39,351.96 L169.50,352.00 L169.70,352.08 L169.90,352.16 L170.13,352.25 L170.86,352.54 L171.59,352.84 L172.33,353.15 L173.06,353.46 L173.80,353.77 L174.53,354.08 L175.27,354.38 L176.00,354.67 L176.74,354.95 L177.47,355.22 L178.20,355.47 L178.94,355.70 L179.67,355.90 L180.41,356.10 L181.14,356.28 L181.88,356.46 L182.61,356.62 L183.35,356.78 L184.08,356.94 L184.82,357.09 L185.55,357.23 L186.28,357.38 L187.02,357.52 L187.75,357.65 L188.49,357.79 L189.22,357.92 L189.96,358.06 L190.69,358.18 L191.43,358.31 L192.16,358.43 L192.89,358.55 L193.63,358.67 L194.36,358.79 L195.10,358.90 L195.83,359.01 L196.57,359.12 L197.30,359.23 L198.04,359.33 L198.77,359.44 L199.50,359.54 L200.24,359.64 L200.97,359.74 L201.71,359.84 L202.44,359.93 L203.18,360.02 L203.91,360.12 L204.65,360.21 L205.38,360.30 L206.11,360.38 L206.85,360.47 L207.58,360.55 L208.32,360.64 L209.05,360.72 L209.79,360.80 L210.52,360.88 L211.26,360.96 L211.99,361.03 L212.72,361.11 L213.46,361.18 L214.19,361.26 L214.93,361.33 L215.66,361.40 L216.40,361.47 L217.13,361.54 L217.87,361.61 L218.60,361.67 L219.33,361.74 L220.07,361.80 L220.80,361.86 L221.54,361.92 L222.27,361.98 L223.01,362.04 L223.74,362.10 L224.48,362.16 L225.21,362.22 L225.94,362.28 L226.68,362.34 L227.41,362.39 L228.15,362.45 L228.88,362.51 L229.62,362.57 L230.35,362.63 L231.09,362.69 L231.82,362.75 L232.56,362.82 L233.29,362.89 L234.02,362.95 L234.76,363.02 L235.49,363.08 L236.23,363.14 L236.96,363.20 L237.70,363.26 L238.43,363.31 L239.17,363.35 L239.90,363.39 L240.63,363.43 L241.37,363.47 L242.10,363.50 L242.84,363.54 L243.57,363.57 L244.31,363.60 L245.04,363.63 L245.78,363.66 L246.51,363.69 L247.24,363.72 L247.98,363.74 L248.71,363.77 L249.45,363.79 L250.18,363.82 L250.92,363.84 L251.65,363.86 L252.39,363.89 L253.12,363.91 L253.85,363.93 L254.59,363.95 L255.32,363.97 L256.06,363.99 L256.79,364.01 L257.53,364.03 L258.26,364.05 L259.00,364.07 L259.73,364.09 L260.46,364.11 L261.20,364.13 L261.93,364.15 L262.67,364.17 L263.40,364.19 L264.14,364.21 L264.87,364.22 L265.61,364.24 L266.34,364.26 L267.07,364.28 L267.81,364.29 L268.54,364.31 L269.28,364.33 L270.01,364.34 L270.75,364.36 L271.48,364.38 L272.22,364.39 L272.95,364.41 L273.68,364.43 L274.42,364.44 L275.15,364.46 L275.89,364.47 L276.62,364.49 L277.36,364.50 L278.09,364.52 L278.83,364.53 L279.56,364.55 L280.29,364.56 L281.03,364.58 L281.76,364.59 L282.50,364.60 L283.23,364.62 L283.97,364.63 L284.70,364.64 L285.44,364.66 L286.17,364.67 L286.91,364.68 L287.64,364.70 L288.37,364.71 L289.11,364.72 L289.84,364.74 L290.58,364.75 L291.31,364.76 L292.05,364.77 L292.78,364.79 L293.52,364.80 L294.25,364.81 L294.98,364.82 L295.72,364.83 L296.45,364.85 L297.19,364.86 L297.92,364.87 L298.66,364.88 L299.39,364.89 L300.13,364.90 L300.86,364.91 L301.59,364.92 L302.33,364.94 L303.06,364.95 L303.80,364.96 L304.53,364.97 L305.27,364.98 L306.00,364.99 L306.74,365.00 L307.47,365.01 L308.20,365.02 L308.94,365.03 L309.67,365.04 L310.41,365.05 L311.14,365.06 L311.88,365.07 L312.61,365.08 L313.35,365.09 L314.08,365.10 L314.81,365.11 L315.55,365.12 L316.28,365.13 L317.02,365.14 L317.75,365.15 L318.49,365.16 L319.22,365.17 L319.96,365.18 L320.69,365.19 L321.42,365.20 L322.16,365.21 L322.89,365.22 L323.63,365.23 L324.36,365.24 L325.10,365.25 L325.83,365.26 L326.57,365.27 L327.30,365.27 L328.03,365.28 L328.77,365.29 L329.50,365.30 L330.24,365.31 L330.97,365.32 L331.71,365.33 L332.44,365.33 L333.18,365.34 L333.91,365.35 L334.65,365.36 L335.38,365.37 L336.11,365.37 L336.85,365.38 L337.58,365.39 L338.32,365.40 L339.05,365.40 L339.79,365.41 L340.52,365.42 L341.26,365.42 L341.99,365.43 L342.72,365.44 L343.46,365.44 L344.19,365.45 L344.93,365.46 L345.66,365.46 L346.40,365.47 L347.13,365.48 L347.87,365.48 L348.60,365.49 L349.33,365.49 L350.07,365.50 L350.80,365.51 L351.54,365.51 L352.27,365.52 L353.01,365.52 L353.74,365.53 L354.48,365.53 L355.21,365.54 L355.94,365.55 L356.68,365.55 L357.41,365.56 L358.15,365.56 L358.88,365.57 L359.62,365.57 L360.35,365.58 L361.09,365.58 L361.82,365.59 L362.55,365.59 L363.29,365.60 L364.02,365.60 L364.76,365.61 L365.49,365.61 L366.23,365.62 L366.96,365.62 L367.70,365.63 L368.43,365.63 L369.16,365.64 L369.90,365.64 L370.63,365.65 L371.37,365.65 L372.10,365.66 L372.84,365.66 L373.57,365.67 L374.31,365.67 L375.04,365.68 L375.77,365.68 L376.51,365.69 L377.24,365.69 L377.98,365.69 L378.71,365.70 L379.45,365.70 L380.18,365.71 L380.92,365.71 L381.65,365.71 L382.39,365.72 L383.12,365.72 L383.85,365.73 L384.59,365.73 L385.32,365.73 L386.06,365.74 L386.79,365.74 L387.53,365.74 L388.26,365.75 L389.00,365.75 L389.73,365.75 L390.46,365.76 L391.20,365.76 L391.93,365.76 L392.67,365.77 L393.40,365.77 L394.14,365.77 L394.87,365.78 L395.61,365.78 L396.34,365.78 L397.07,365.78 L397.81,365.79 L398.54,365.79 L399.28,365.79 L400.01,365.79 L400.75,365.79 L401.48,365.80 L402.22,365.80 L402.95,365.80" stroke="#000" stroke-width="2.3" stroke-dasharray="1.2 2.7 3.7 2.7 1.2 2.7 3.7 1.45 3.7 1.45 3.7 2.7 1.2 2.7 3.7 2.7 1.2 2.7 3.7 1.45 3.7 2.7 1.2 2.7 3.7 2.7 1.2 2.7 3.7 1.45 3.7 2.7"/>
<path d="M323,268.9 H378.7" stroke="#c080ff"/>
<path d="M323,289.1 H378.7" stroke="#ff0000" stroke-dasharray="2.2 2.9"/>
<path d="M323,309.4 H378.7" stroke="#0000ff" stroke-dasharray="6.4 1.8 1.2 1.75"/>
<path d="M323,329.6 H378.7" stroke="#000" stroke-dasharray="3.6 2.85 1 2.85"/>
<path d="M109.90,46.45 L110.10,46.45 L110.30,46.45 L110.50,46.45 L110.63,46.45 L110.70,46.46 L110.90,46.46 L111.10,46.46 L111.30,46.47 L111.37,46.47 L111.51,46.47 L111.71,46.47 L111.91,46.48 L112.10,46.49 L112.11,46.49 L112.31,46.49 L112.51,46.50 L112.71,46.50 L112.84,46.51 L112.91,46.51 L113.11,46.52 L113.31,46.53 L113.51,46.53 L113.57,46.53 L113.71,46.54 L113.91,46.55 L114.11,46.55 L114.31,46.56 L114.31,46.56 L114.52,46.57 L114.72,46.58 L114.92,46.59 L115.04,46.60 L115.12,46.60 L115.32,46.61 L115.52,46.63 L115.72,46.64 L115.78,46.64 L115.92,46.65 L116.12,46.67 L116.32,46.68 L116.51,46.70 L116.52,46.70 L116.72,46.72 L116.92,46.73 L117.12,46.75 L117.24,46.76 L117.32,46.77 L117.53,46.79 L117.73,46.81 L117.93,46.83 L117.98,46.83 L118.13,46.85 L118.33,46.87 L118.53,46.89 L118.71,46.91 L118.73,46.91 L118.93,46.93 L119.13,46.96 L119.33,46.98 L119.45,46.99 L119.53,47.00 L119.73,47.03 L119.93,47.06 L120.13,47.09 L120.18,47.09 L120.33,47.12 L120.54,47.15 L120.74,47.19 L120.92,47.22 L120.94,47.23 L121.14,47.26 L121.34,47.31 L121.54,47.35 L121.65,47.37 L121.74,47.39 L121.94,47.44 L122.14,47.48 L122.34,47.53 L122.39,47.54 L122.54,47.58 L122.74,47.63 L122.94,47.68 L123.12,47.73 L123.14,47.73 L123.34,47.79 L123.55,47.84 L123.75,47.89 L123.85,47.92 L123.95,47.95 L124.15,48.00 L124.35,48.06 L124.55,48.11 L124.59,48.12 L124.75,48.17 L124.95,48.22 L125.15,48.28 L125.32,48.33 L125.35,48.34 L125.55,48.39 L125.75,48.45 L125.95,48.50 L126.06,48.53 L126.15,48.56 L126.35,48.61 L126.56,48.66 L126.76,48.71 L126.79,48.72 L126.96,48.77 L127.16,48.82 L127.36,48.87 L127.53,48.92 L127.56,48.93 L127.76,48.98 L127.96,49.04 L128.16,49.10 L128.26,49.12 L128.36,49.15 L128.56,49.21 L128.76,49.27 L128.96,49.32 L129.00,49.33 L129.16,49.38 L129.36,49.44 L129.57,49.50 L129.73,49.55 L129.77,49.56 L129.97,49.62 L130.17,49.68 L130.37,49.74 L130.46,49.77 L130.57,49.80 L130.77,49.86 L130.97,49.92 L131.17,49.98 L131.20,49.99 L131.37,50.04 L131.57,50.10 L131.77,50.16 L131.93,50.21 L131.97,50.22 L132.17,50.28 L132.37,50.34 L132.58,50.40 L132.67,50.43 L132.78,50.46 L132.98,50.52 L133.18,50.58 L133.38,50.64 L133.40,50.65 L133.58,50.70 L133.78,50.76 L133.98,50.82 L134.14,50.87 L134.18,50.88 L134.38,50.94 L134.58,51.00 L134.78,51.07 L134.87,51.09 L134.98,51.13 L135.18,51.19 L135.38,51.25 L135.59,51.31 L135.61,51.31 L135.79,51.37 L135.99,51.43 L136.19,51.49 L136.34,51.54 L136.39,51.55 L136.59,51.62 L136.79,51.68 L136.99,51.74 L137.08,51.76 L137.19,51.80 L137.39,51.86 L137.59,51.92 L137.79,51.99 L137.81,51.99 L137.99,52.05 L138.19,52.11 L138.39,52.17 L138.54,52.22 L138.60,52.23 L138.80,52.29 L139.00,52.36 L139.20,52.42 L139.28,52.44 L139.40,52.48 L139.60,52.54 L139.80,52.60 L140.00,52.66 L140.01,52.67 L140.20,52.73 L140.40,52.79 L140.60,52.85 L140.75,52.89 L140.80,52.91 L141.00,52.97 L141.20,53.03 L141.41,53.09 L141.48,53.12 L141.61,53.15 L141.81,53.21 L142.01,53.28 L142.21,53.34 L142.22,53.34 L142.41,53.40 L142.61,53.46 L142.81,53.52 L142.95,53.56 L143.01,53.58 L143.21,53.64 L143.41,53.71 L143.61,53.77 L143.69,53.79 L143.81,53.83 L144.01,53.89 L144.21,53.95 L144.42,54.01 L144.42,54.01 L144.62,54.07 L144.82,54.13 L145.02,54.19 L145.15,54.24 L145.22,54.26 L145.42,54.32 L145.62,54.38 L145.82,54.44 L145.89,54.46 L146.02,54.50 L146.22,54.56 L146.42,54.62 L146.62,54.68 L146.62,54.68 L146.82,54.74 L147.02,54.80 L147.22,54.86 L147.36,54.90 L147.43,54.92 L147.63,54.97 L147.83,55.03 L148.03,55.09 L148.09,55.11 L148.23,55.15 L148.43,55.21 L148.63,55.27 L148.83,55.32 L148.83,55.32 L149.03,55.38 L149.23,55.44 L149.43,55.50 L149.56,55.53 L149.63,55.55 L149.83,55.61 L150.03,55.67 L150.23,55.72 L150.30,55.74 L150.44,55.78 L150.64,55.84 L150.84,55.89 L151.03,55.95 L151.04,55.95 L151.24,56.00 L151.44,56.06 L151.64,56.12 L151.76,56.15 L151.84,56.17 L152.04,56.23 L152.24,56.28 L152.44,56.34 L152.50,56.35 L152.64,56.39 L152.84,56.45 L153.04,56.50 L153.23,56.55 L153.24,56.56 L153.45,56.61 L153.65,56.67 L153.85,56.72 L153.97,56.76 L154.05,56.78 L154.25,56.83 L154.45,56.89 L154.65,56.94 L154.70,56.96 L154.85,57.00 L155.05,57.05 L155.25,57.11 L155.44,57.16 L155.45,57.16 L155.65,57.21 L155.85,57.27 L156.05,57.32 L156.17,57.36 L156.25,57.38 L156.46,57.43 L156.66,57.49 L156.86,57.54 L156.91,57.55 L157.06,57.60 L157.26,57.65 L157.46,57.70 L157.64,57.75 L157.66,57.76 L157.86,57.81 L158.06,57.87 L158.26,57.92 L158.37,57.95 L158.46,57.97 L158.66,58.03 L158.86,58.08 L159.06,58.14 L159.11,58.15 L159.26,58.19 L159.47,58.24 L159.67,58.30 L159.84,58.34 L159.87,58.35 L160.07,58.40 L160.27,58.46 L160.47,58.51 L160.58,58.54 L160.67,58.56 L160.87,58.62 L161.07,58.67 L161.27,58.72 L161.31,58.73 L161.47,58.78 L161.67,58.83 L161.87,58.88 L162.05,58.93 L162.07,58.94 L162.27,58.99 L162.48,59.04 L162.68,59.09 L162.78,59.12 L162.88,59.15 L163.08,59.20 L163.28,59.25 L163.48,59.30 L163.52,59.31 L163.68,59.36 L163.88,59.41 L164.08,59.46 L164.25,59.51 L164.28,59.51 L164.48,59.57 L164.68,59.62 L164.88,59.67 L164.98,59.70 L165.08,59.72 L165.28,59.77 L165.49,59.83 L165.69,59.88 L165.72,59.89 L165.89,59.93 L166.09,59.98 L166.29,60.03 L166.45,60.08 L166.49,60.09 L166.69,60.14 L166.89,60.19 L167.09,60.24 L167.19,60.27 L167.29,60.29 L167.49,60.34 L167.69,60.40 L167.89,60.45 L167.92,60.45 L168.09,60.50 L168.29,60.55 L168.50,60.60 L168.66,60.64 L168.70,60.65 L168.90,60.70 L169.10,60.76 L169.30,60.81 L169.39,60.83 L169.50,60.86 L169.70,60.91 L169.90,60.96 L170.13,61.02 L170.86,61.20 L171.59,61.39 L172.33,61.57 L173.06,61.75 L173.80,61.93 L174.53,62.11 L175.27,62.28 L176.00,62.46 L176.74,62.63 L177.47,62.81 L178.20,62.98 L178.94,63.15 L179.67,63.32 L180.41,63.50 L181.14,63.66 L181.88,63.83 L182.61,64.00 L183.35,64.17 L184.08,64.33 L184.82,64.50 L185.55,64.66 L186.28,64.83 L187.02,64.99 L187.75,65.15 L188.49,65.31 L189.22,65.47 L189.96,65.63 L190.69,65.79 L191.43,65.94 L192.16,66.10 L192.89,66.25 L193.63,66.41 L194.36,66.56 L195.10,66.71 L195.83,66.87 L196.57,67.02 L197.30,67.17 L198.04,67.32 L198.77,67.47 L199.50,67.62 L200.24,67.77 L200.97,67.91 L201.71,68.06 L202.44,68.21 L203.18,68.36 L203.91,68.50 L204.65,68.65 L205.38,68.79 L206.11,68.94 L206.85,69.08 L207.58,69.23 L208.32,69.37 L209.05,69.52 L209.79,69.66 L210.52,69.80 L211.26,69.95 L211.99,70.09 L212.72,70.23 L213.46,70.37 L214.19,70.51 L214.93,70.65 L215.66,70.79 L216.40,70.93 L217.13,71.07 L217.87,71.20 L218.60,71.34 L219.33,71.48 L220.07,71.61 L220.80,71.75 L221.54,71.88 L222.27,72.02 L223.01,72.15 L223.74,72.29 L224.48,72.42 L225.21,72.56 L225.94,72.69 L226.68,72.82 L227.41,72.96 L228.15,73.09 L228.88,73.22 L229.62,73.36 L230.35,73.49 L231.09,73.62 L231.82,73.75 L232.56,73.89 L233.29,74.02 L234.02,74.15 L234.76,74.28 L235.49,74.41 L236.23,74.54 L236.96,74.67 L237.70,74.80 L238.43,74.93 L239.17,75.06 L239.90,75.19 L240.63,75.32 L241.37,75.45 L242.10,75.58 L242.84,75.71 L243.57,75.84 L244.31,75.97 L245.04,76.10 L245.78,76.23 L246.51,76.36 L247.24,76.48 L247.98,76.61 L248.71,76.74 L249.45,76.87 L250.18,77.00 L250.92,77.12 L251.65,77.25 L252.39,77.38 L253.12,77.51 L253.85,77.63 L254.59,77.76 L255.32,77.89 L256.06,78.01 L256.79,78.14 L257.53,78.27 L258.26,78.39 L259.00,78.52 L259.73,78.65 L260.46,78.77 L261.20,78.90 L261.93,79.02 L262.67,79.15 L263.40,79.28 L264.14,79.40 L264.87,79.53 L265.61,79.65 L266.34,79.78 L267.07,79.90 L267.81,80.03 L268.54,80.15 L269.28,80.28 L270.01,80.40 L270.75,80.53 L271.48,80.65 L272.22,80.78 L272.95,80.90 L273.68,81.03 L274.42,81.15 L275.15,81.28 L275.89,81.40 L276.62,81.53 L277.36,81.65 L278.09,81.78 L278.83,81.90 L279.56,82.02 L280.29,82.15 L281.03,82.27 L281.76,82.40 L282.50,82.52 L283.23,82.65 L283.97,82.77 L284.70,82.89 L285.44,83.02 L286.17,83.14 L286.91,83.27 L287.64,83.39 L288.37,83.52 L289.11,83.64 L289.84,83.76 L290.58,83.89 L291.31,84.01 L292.05,84.14 L292.78,84.26 L293.52,84.39 L294.25,84.51 L294.98,84.64 L295.72,84.76 L296.45,84.88 L297.19,85.01 L297.92,85.13 L298.66,85.26 L299.39,85.38 L300.13,85.51 L300.86,85.63 L301.59,85.76 L302.33,85.88 L303.06,86.01 L303.80,86.13 L304.53,86.26 L305.27,86.38 L306.00,86.51 L306.74,86.63 L307.47,86.76 L308.20,86.88 L308.94,87.01 L309.67,87.14 L310.41,87.26 L311.14,87.39 L311.88,87.51 L312.61,87.64 L313.35,87.77 L314.08,87.89 L314.81,88.02 L315.55,88.14 L316.28,88.27 L317.02,88.40 L317.75,88.52 L318.49,88.65 L319.22,88.78 L319.96,88.90 L320.69,89.03 L321.42,89.16 L322.16,89.28 L322.89,89.41 L323.63,89.53 L324.36,89.66 L325.10,89.79 L325.83,89.91 L326.57,90.04 L327.30,90.17 L328.03,90.29 L328.77,90.42 L329.50,90.54 L330.24,90.67 L330.97,90.80 L331.71,90.92 L332.44,91.05 L333.18,91.17 L333.91,91.30 L334.65,91.43 L335.38,91.55 L336.11,91.68 L336.85,91.81 L337.58,91.93 L338.32,92.06 L339.05,92.18 L339.79,92.31 L340.52,92.44 L341.26,92.56 L341.99,92.69 L342.72,92.81 L343.46,92.94 L344.19,93.06 L344.93,93.19 L345.66,93.32 L346.40,93.44 L347.13,93.57 L347.87,93.69 L348.60,93.82 L349.33,93.95 L350.07,94.07 L350.80,94.20 L351.54,94.32 L352.27,94.45 L353.01,94.58 L353.74,94.70 L354.48,94.83 L355.21,94.95 L355.94,95.08 L356.68,95.20 L357.41,95.33 L358.15,95.46 L358.88,95.58 L359.62,95.71 L360.35,95.83 L361.09,95.96 L361.82,96.08 L362.55,96.21 L363.29,96.33 L364.02,96.46 L364.76,96.59 L365.49,96.71 L366.23,96.84 L366.96,96.96 L367.70,97.09 L368.43,97.21 L369.16,97.34 L369.90,97.46 L370.63,97.59 L371.37,97.72 L372.10,97.84 L372.84,97.97 L373.57,98.09 L374.31,98.22 L375.04,98.34 L375.77,98.47 L376.51,98.59 L377.24,98.72 L377.98,98.84 L378.71,98.97 L379.45,99.10 L380.18,99.22 L380.92,99.35 L381.65,99.47 L382.39,99.60 L383.12,99.72 L383.85,99.85 L384.59,99.97 L385.32,100.10 L386.06,100.22 L386.79,100.35 L387.53,100.47 L388.26,100.60 L389.00,100.72 L389.73,100.85 L390.46,100.97 L391.20,101.10 L391.93,101.22 L392.67,101.35 L393.40,101.47 L394.14,101.60 L394.87,101.72 L395.61,101.85 L396.34,101.97 L397.07,102.10 L397.81,102.22 L398.54,102.35 L399.28,102.48 L400.01,102.60 L400.75,102.73 L401.48,102.85 L402.22,102.98 L402.95,103.10" stroke="#c080ff"/>
<path d="M109.90,46.45 L110.10,46.45 L110.30,46.45 L110.50,46.45 L110.63,46.46 L110.70,46.46 L110.90,46.46 L111.10,46.47 L111.30,46.47 L111.37,46.47 L111.51,46.48 L111.71,46.48 L111.91,46.49 L112.10,46.50 L112.11,46.50 L112.31,46.51 L112.51,46.52 L112.71,46.53 L112.84,46.53 L112.91,46.54 L113.11,46.55 L113.31,46.56 L113.51,46.57 L113.57,46.57 L113.71,46.58 L113.91,46.59 L114.11,46.61 L114.31,46.62 L114.31,46.62 L114.52,46.64 L114.72,46.67 L114.92,46.70 L115.04,46.71 L115.12,46.73 L115.32,46.76 L115.52,46.80 L115.72,46.84 L115.78,46.85 L115.92,46.88 L116.12,46.92 L116.32,46.97 L116.51,47.02 L116.52,47.02 L116.72,47.07 L116.92,47.12 L117.12,47.18 L117.24,47.21 L117.32,47.23 L117.53,47.29 L117.73,47.34 L117.93,47.40 L117.98,47.42 L118.13,47.46 L118.33,47.52 L118.53,47.58 L118.71,47.63 L118.73,47.64 L118.93,47.70 L119.13,47.76 L119.33,47.81 L119.45,47.85 L119.53,47.87 L119.73,47.93 L119.93,47.98 L120.13,48.04 L120.18,48.05 L120.33,48.09 L120.54,48.15 L120.74,48.20 L120.92,48.25 L120.94,48.26 L121.14,48.32 L121.34,48.37 L121.54,48.43 L121.65,48.47 L121.74,48.49 L121.94,48.55 L122.14,48.61 L122.34,48.67 L122.39,48.68 L122.54,48.73 L122.74,48.79 L122.94,48.86 L123.12,48.91 L123.14,48.92 L123.34,48.98 L123.55,49.04 L123.75,49.11 L123.85,49.14 L123.95,49.17 L124.15,49.24 L124.35,49.30 L124.55,49.37 L124.59,49.38 L124.75,49.44 L124.95,49.50 L125.15,49.57 L125.32,49.63 L125.35,49.64 L125.55,49.71 L125.75,49.78 L125.95,49.85 L126.06,49.88 L126.15,49.92 L126.35,49.99 L126.56,50.06 L126.76,50.13 L126.79,50.14 L126.96,50.20 L127.16,50.28 L127.36,50.35 L127.53,50.41 L127.56,50.42 L127.76,50.50 L127.96,50.57 L128.16,50.64 L128.26,50.68 L128.36,50.72 L128.56,50.80 L128.76,50.87 L128.96,50.95 L129.00,50.96 L129.16,51.02 L129.36,51.10 L129.57,51.18 L129.73,51.25 L129.77,51.26 L129.97,51.34 L130.17,51.42 L130.37,51.51 L130.46,51.55 L130.57,51.59 L130.77,51.67 L130.97,51.76 L131.17,51.84 L131.20,51.86 L131.37,51.93 L131.57,52.02 L131.77,52.11 L131.93,52.18 L131.97,52.20 L132.17,52.28 L132.37,52.37 L132.58,52.47 L132.67,52.51 L132.78,52.56 L132.98,52.65 L133.18,52.74 L133.38,52.84 L133.40,52.85 L133.58,52.93 L133.78,53.02 L133.98,53.12 L134.14,53.19 L134.18,53.21 L134.38,53.31 L134.58,53.40 L134.78,53.50 L134.87,53.54 L134.98,53.60 L135.18,53.69 L135.38,53.79 L135.59,53.89 L135.61,53.90 L135.79,53.99 L135.99,54.09 L136.19,54.18 L136.34,54.26 L136.39,54.28 L136.59,54.38 L136.79,54.48 L136.99,54.58 L137.08,54.62 L137.19,54.68 L137.39,54.78 L137.59,54.88 L137.79,54.98 L137.81,54.99 L137.99,55.08 L138.19,55.18 L138.39,55.28 L138.54,55.35 L138.60,55.37 L138.80,55.47 L139.00,55.57 L139.20,55.67 L139.28,55.71 L139.40,55.77 L139.60,55.87 L139.80,55.97 L140.00,56.07 L140.01,56.07 L140.20,56.16 L140.40,56.26 L140.60,56.36 L140.75,56.43 L140.80,56.46 L141.00,56.55 L141.20,56.65 L141.41,56.75 L141.48,56.78 L141.61,56.84 L141.81,56.94 L142.01,57.04 L142.21,57.14 L142.22,57.14 L142.41,57.23 L142.61,57.33 L142.81,57.43 L142.95,57.50 L143.01,57.53 L143.21,57.62 L143.41,57.72 L143.61,57.82 L143.69,57.86 L143.81,57.92 L144.01,58.02 L144.21,58.12 L144.42,58.22 L144.42,58.22 L144.62,58.32 L144.82,58.41 L145.02,58.51 L145.15,58.58 L145.22,58.61 L145.42,58.71 L145.62,58.81 L145.82,58.91 L145.89,58.95 L146.02,59.01 L146.22,59.11 L146.42,59.21 L146.62,59.31 L146.62,59.31 L146.82,59.41 L147.02,59.51 L147.22,59.61 L147.36,59.68 L147.43,59.71 L147.63,59.81 L147.83,59.91 L148.03,60.01 L148.09,60.04 L148.23,60.11 L148.43,60.21 L148.63,60.31 L148.83,60.41 L148.83,60.41 L149.03,60.51 L149.23,60.61 L149.43,60.72 L149.56,60.78 L149.63,60.82 L149.83,60.92 L150.03,61.02 L150.23,61.12 L150.30,61.15 L150.44,61.22 L150.64,61.32 L150.84,61.42 L151.03,61.52 L151.04,61.52 L151.24,61.62 L151.44,61.72 L151.64,61.82 L151.76,61.88 L151.84,61.92 L152.04,62.02 L152.24,62.12 L152.44,62.22 L152.50,62.25 L152.64,62.32 L152.84,62.42 L153.04,62.52 L153.23,62.62 L153.24,62.62 L153.45,62.72 L153.65,62.82 L153.85,62.92 L153.97,62.98 L154.05,63.02 L154.25,63.12 L154.45,63.22 L154.65,63.32 L154.70,63.35 L154.85,63.42 L155.05,63.52 L155.25,63.63 L155.44,63.72 L155.45,63.73 L155.65,63.83 L155.85,63.93 L156.05,64.03 L156.17,64.09 L156.25,64.13 L156.46,64.23 L156.66,64.33 L156.86,64.43 L156.91,64.46 L157.06,64.53 L157.26,64.63 L157.46,64.73 L157.64,64.82 L157.66,64.83 L157.86,64.93 L158.06,65.03 L158.26,65.14 L158.37,65.19 L158.46,65.24 L158.66,65.34 L158.86,65.44 L159.06,65.54 L159.11,65.56 L159.26,65.64 L159.47,65.74 L159.67,65.84 L159.84,65.93 L159.87,65.94 L160.07,66.04 L160.27,66.14 L160.47,66.24 L160.58,66.29 L160.67,66.34 L160.87,66.44 L161.07,66.54 L161.27,66.64 L161.31,66.66 L161.47,66.74 L161.67,66.83 L161.87,66.93 L162.05,67.02 L162.07,67.03 L162.27,67.13 L162.48,67.23 L162.68,67.33 L162.78,67.38 L162.88,67.43 L163.08,67.53 L163.28,67.63 L163.48,67.73 L163.52,67.75 L163.68,67.83 L163.88,67.93 L164.08,68.03 L164.25,68.11 L164.28,68.13 L164.48,68.23 L164.68,68.33 L164.88,68.43 L164.98,68.48 L165.08,68.53 L165.28,68.62 L165.49,68.72 L165.69,68.82 L165.72,68.84 L165.89,68.92 L166.09,69.02 L166.29,69.12 L166.45,69.20 L166.49,69.22 L166.69,69.32 L166.89,69.42 L167.09,69.52 L167.19,69.57 L167.29,69.62 L167.49,69.72 L167.69,69.81 L167.89,69.91 L167.92,69.93 L168.09,70.01 L168.29,70.11 L168.50,70.21 L168.66,70.29 L168.70,70.31 L168.90,70.41 L169.10,70.50 L169.30,70.60 L169.39,70.65 L169.50,70.70 L169.70,70.80 L169.90,70.90 L170.13,71.01 L170.86,71.36 L171.59,71.72 L172.33,72.07 L173.06,72.42 L173.80,72.77 L174.53,73.12 L175.27,73.46 L176.00,73.80 L176.74,74.14 L177.47,74.48 L178.20,74.81 L178.94,75.14 L179.67,75.48 L180.41,75.81 L181.14,76.14 L181.88,76.46 L182.61,76.79 L183.35,77.12 L184.08,77.45 L184.82,77.77 L185.55,78.10 L186.28,78.43 L187.02,78.76 L187.75,79.09 L188.49,79.41 L189.22,79.74 L189.96,80.08 L190.69,80.41 L191.43,80.74 L192.16,81.07 L192.89,81.40 L193.63,81.73 L194.36,82.05 L195.10,82.38 L195.83,82.71 L196.57,83.04 L197.30,83.37 L198.04,83.70 L198.77,84.03 L199.50,84.36 L200.24,84.69 L200.97,85.02 L201.71,85.34 L202.44,85.67 L203.18,86.00 L203.91,86.33 L204.65,86.66 L205.38,86.98 L206.11,87.31 L206.85,87.64 L207.58,87.96 L208.32,88.29 L209.05,88.61 L209.79,88.94 L210.52,89.27 L211.26,89.59 L211.99,89.92 L212.72,90.24 L213.46,90.57 L214.19,90.89 L214.93,91.22 L215.66,91.54 L216.40,91.86 L217.13,92.19 L217.87,92.51 L218.60,92.84 L219.33,93.16 L220.07,93.49 L220.80,93.81 L221.54,94.14 L222.27,94.46 L223.01,94.78 L223.74,95.11 L224.48,95.43 L225.21,95.76 L225.94,96.08 L226.68,96.40 L227.41,96.73 L228.15,97.05 L228.88,97.38 L229.62,97.70 L230.35,98.02 L231.09,98.35 L231.82,98.67 L232.56,98.99 L233.29,99.32 L234.02,99.64 L234.76,99.96 L235.49,100.29 L236.23,100.61 L236.96,100.93 L237.70,101.26 L238.43,101.58 L239.17,101.90 L239.90,102.23 L240.63,102.55 L241.37,102.87 L242.10,103.20 L242.84,103.52 L243.57,103.84 L244.31,104.17 L245.04,104.49 L245.78,104.81 L246.51,105.13 L247.24,105.46 L247.98,105.78 L248.71,106.10 L249.45,106.42 L250.18,106.75 L250.92,107.07 L251.65,107.39 L252.39,107.72 L253.12,108.04 L253.85,108.36 L254.59,108.68 L255.32,109.01 L256.06,109.33 L256.79,109.65 L257.53,109.97 L258.26,110.30 L259.00,110.62 L259.73,110.94 L260.46,111.26 L261.20,111.59 L261.93,111.91 L262.67,112.23 L263.40,112.55 L264.14,112.87 L264.87,113.20 L265.61,113.52 L266.34,113.84 L267.07,114.16 L267.81,114.49 L268.54,114.81 L269.28,115.13 L270.01,115.45 L270.75,115.77 L271.48,116.10 L272.22,116.42 L272.95,116.74 L273.68,117.06 L274.42,117.39 L275.15,117.71 L275.89,118.03 L276.62,118.35 L277.36,118.67 L278.09,119.00 L278.83,119.32 L279.56,119.64 L280.29,119.96 L281.03,120.28 L281.76,120.61 L282.50,120.93 L283.23,121.25 L283.97,121.57 L284.70,121.90 L285.44,122.22 L286.17,122.54 L286.91,122.86 L287.64,123.18 L288.37,123.51 L289.11,123.83 L289.84,124.15 L290.58,124.47 L291.31,124.80 L292.05,125.12 L292.78,125.44 L293.52,125.76 L294.25,126.08 L294.98,126.41 L295.72,126.73 L296.45,127.05 L297.19,127.37 L297.92,127.70 L298.66,128.02 L299.39,128.34 L300.13,128.66 L300.86,128.99 L301.59,129.31 L302.33,129.63 L303.06,129.95 L303.80,130.28 L304.53,130.60 L305.27,130.92 L306.00,131.24 L306.74,131.57 L307.47,131.89 L308.20,132.21 L308.94,132.54 L309.67,132.86 L310.41,133.18 L311.14,133.50 L311.88,133.83 L312.61,134.15 L313.35,134.47 L314.08,134.80 L314.81,135.12 L315.55,135.44 L316.28,135.76 L317.02,136.09 L317.75,136.41 L318.49,136.73 L319.22,137.06 L319.96,137.38 L320.69,137.70 L321.42,138.03 L322.16,138.35 L322.89,138.67 L323.63,139.00 L324.36,139.32 L325.10,139.64 L325.83,139.96 L326.57,140.29 L327.30,140.61 L328.03,140.93 L328.77,141.26 L329.50,141.58 L330.24,141.90 L330.97,142.23 L331.71,142.55 L332.44,142.87 L333.18,143.20 L333.91,143.52 L334.65,143.84 L335.38,144.16 L336.11,144.49 L336.85,144.81 L337.58,145.13 L338.32,145.46 L339.05,145.78 L339.79,146.10 L340.52,146.43 L341.26,146.75 L341.99,147.07 L342.72,147.40 L343.46,147.72 L344.19,148.04 L344.93,148.37 L345.66,148.69 L346.40,149.01 L347.13,149.33 L347.87,149.66 L348.60,149.98 L349.33,150.30 L350.07,150.63 L350.80,150.95 L351.54,151.27 L352.27,151.60 L353.01,151.92 L353.74,152.24 L354.48,152.57 L355.21,152.89 L355.94,153.21 L356.68,153.54 L357.41,153.86 L358.15,154.18 L358.88,154.51 L359.62,154.83 L360.35,155.15 L361.09,155.47 L361.82,155.80 L362.55,156.12 L363.29,156.44 L364.02,156.77 L364.76,157.09 L365.49,157.41 L366.23,157.74 L366.96,158.06 L367.70,158.38 L368.43,158.71 L369.16,159.03 L369.90,159.35 L370.63,159.68 L371.37,160.00 L372.10,160.32 L372.84,160.65 L373.57,160.97 L374.31,161.29 L375.04,161.62 L375.77,161.94 L376.51,162.26 L377.24,162.59 L377.98,162.91 L378.71,163.23 L379.45,163.56 L380.18,163.88 L380.92,164.20 L381.65,164.53 L382.39,164.85 L383.12,165.17 L383.85,165.49 L384.59,165.82 L385.32,166.14 L386.06,166.46 L386.79,166.79 L387.53,167.11 L388.26,167.43 L389.00,167.76 L389.73,168.08 L390.46,168.40 L391.20,168.73 L391.93,169.05 L392.67,169.37 L393.40,169.70 L394.14,170.02 L394.87,170.34 L395.61,170.67 L396.34,170.99 L397.07,171.31 L397.81,171.64 L398.54,171.96 L399.28,172.28 L400.01,172.61 L400.75,172.93 L401.48,173.25 L402.22,173.58 L402.95,173.90" stroke="#000" stroke-width="2.3" stroke-dasharray="1.2 2.7 3.7 2.7 1.2 2.7 3.7 1.45 3.7 1.45 3.7 2.7 1.2 2.7 3.7 2.7 1.2 2.7 3.7 1.45 3.7 2.7 1.2 2.7 3.7 2.7 1.2 2.7 3.7 1.45 3.7 2.7"/>
<path d="M323,26.9 H378.7" stroke="#c080ff"/>
<path d="M323,47.0 H378.7" stroke="#000" stroke-dasharray="3.6 2.85 1 2.85"/>
</g>
<g fill="none" stroke="#000" stroke-width="1.35">
<rect x="109.9" y="9.9" width="293.00" height="211.60"/>
<rect x="109.9" y="231.6" width="293.00" height="250.95"/>
</g>
<g fill="none" stroke="#000" stroke-width="1.1">
<path d="M177.53,9.9 v6.5 M177.53,221.5 v-6.5 M177.53,231.6 v6.5 M177.53,482.55 v-6.5 M245.15,9.9 v6.5 M245.15,221.5 v-6.5 M245.15,231.6 v6.5 M245.15,482.55 v-6.5 M312.77,9.9 v6.5 M312.77,221.5 v-6.5 M312.77,231.6 v6.5 M312.77,482.55 v-6.5 M380.40,9.9 v6.5 M380.40,221.5 v-6.5 M380.40,231.6 v6.5 M380.40,482.55 v-6.5 M109.9,46.45 h6.5 M402.9,46.45 h-6.5 M109.9,69.55 h6.5 M402.9,69.55 h-6.5 M109.9,95.36 h6.5 M402.9,95.36 h-6.5 M109.9,124.63 h6.5 M402.9,124.63 h-6.5 M109.9,158.42 h6.5 M402.9,158.42 h-6.5 M109.9,198.39 h6.5 M402.9,198.39 h-6.5 M109.9,455.80 h6.5 M402.9,455.80 h-6.5 M109.9,429.45 h6.5 M402.9,429.45 h-6.5 M109.9,403.10 h6.5 M402.9,403.10 h-6.5 M109.9,376.75 h6.5 M402.9,376.75 h-6.5 M109.9,350.40 h6.5 M402.9,350.40 h-6.5 M109.9,324.05 h6.5 M402.9,324.05 h-6.5 M109.9,297.70 h6.5 M402.9,297.70 h-6.5"/>
</g>
<g font-family="Liberation Sans, sans-serif" font-size="20.2" fill="#000" text-rendering="geometricPrecision">
<text x="97.6" y="52.75" text-anchor="end">1.0</text>
<text x="97.6" y="76.65" text-anchor="end">0.9</text>
<text x="97.6" y="102.46" text-anchor="end">0.8</text>
<text x="97.6" y="131.73" text-anchor="end">0.7</text>
<text x="97.6" y="165.52" text-anchor="end">0.6</text>
<text x="97.6" y="205.49" text-anchor="end">0.5</text>
<text x="97.2" y="462.90" text-anchor="end">0.02</text>
<text x="97.2" y="436.55" text-anchor="end">0.04</text>
<text x="97.2" y="410.20" text-anchor="end">0.06</text>
<text x="97.2" y="383.85" text-anchor="end">0.08</text>
<text x="97.2" y="357.50" text-anchor="end">0.10</text>
<text x="97.2" y="331.15" text-anchor="end">0.12</text>
<text x="97.2" y="304.80" text-anchor="end">0.14</text>
<text x="112.50" y="510" text-anchor="middle">0</text>
<text x="180.12" y="510" text-anchor="middle">300</text>
<text x="247.75" y="510" text-anchor="middle">600</text>
<text x="315.38" y="510" text-anchor="middle">900</text>
<text x="383.00" y="510" text-anchor="middle">1200</text>
<text x="256.4" y="539.6" text-anchor="middle">ct (fm)</text>
<text transform="translate(43.1,115.8) rotate(-90)" text-anchor="middle">1-N<tspan font-size="16.2" dy="6">d</tspan><tspan dy="-6">(t)</tspan></text>
<text transform="translate(33,358) rotate(-90)" text-anchor="middle"><tspan font-family="Liberation Serif, serif" font-size="21.6">Γ</tspan>(t) (MeV)</text>
<text x="310.7" y="33.4" text-anchor="end">SDDC</text>
<text x="310.7" y="53.6" text-anchor="end">Minnesota</text>
<text x="265.9" y="253.6" font-family="Liberation Serif, serif" font-size="21.6">Γ</text>
<text x="311.0" y="258.3" text-anchor="end" font-size="16.2">Exp.</text>
<text x="310.7" y="275.3" text-anchor="end">SDDC</text>
<text x="310.7" y="292.5" text-anchor="end">SDDC, S<tspan font-size="16.2" dy="6">12</tspan><tspan dy="-6">=0</tspan></text>
<text x="310.7" y="313.9" text-anchor="end">SDDC, S<tspan font-size="16.2" dy="6">12</tspan><tspan dy="-6">=1</tspan></text>
<text x="310.6" y="336.4" text-anchor="end">Minnesota</text>
</g>
</svg>
</body></html>
